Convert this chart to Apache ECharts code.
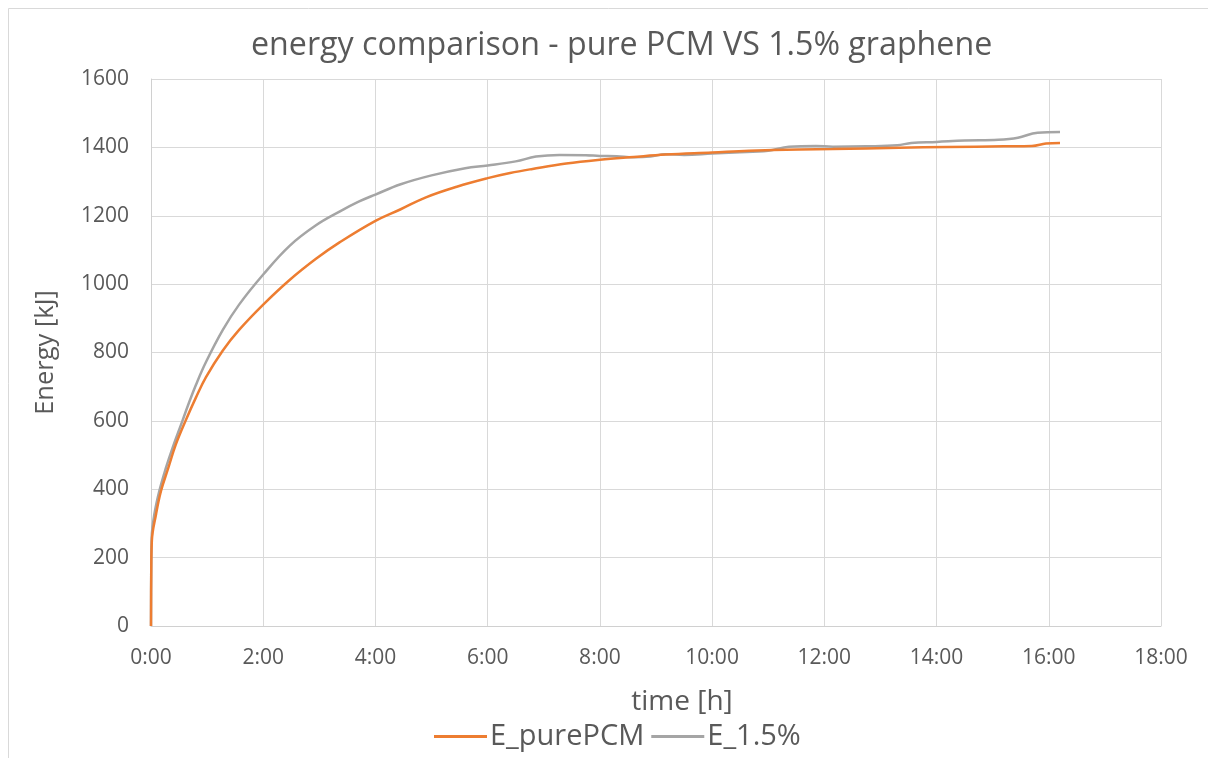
<!DOCTYPE html>
<html>
<head>
<meta charset="utf-8">
<script src="https://cdn.jsdelivr.net/npm/echarts@6/dist/echarts.min.js"></script>
<style>
  html, body { margin: 0; padding: 0; background: #ffffff; }
  #chart { width: 1208px; height: 758px; }
</style>
</head>
<body>
<div id="chart"></div>
<script>
// Stored energy over time, [hours, kJ]
const pureTime = [0, 0.004, 0.015, 0.09, 0.178, 0.31, 0.44, 0.62, 0.8, 0.98, 1.28, 1.57, 2.0, 2.47, 2.94, 3.36, 4.0, 4.45, 4.9, 5.45, 6.0, 6.4, 6.8, 7.4, 8.0, 8.6, 9.17, 10.0, 10.66, 11.55, 12.15, 13.33, 14.2, 15.2, 15.7, 15.95, 16.2];
const pureEnergy = [0, 150, 249, 327, 395, 463, 530, 602, 668, 728, 806, 866, 940, 1012, 1074, 1122, 1185, 1219, 1254, 1285, 1310, 1325, 1337, 1353, 1364, 1372, 1379, 1385, 1390, 1394, 1395, 1399, 1401, 1403, 1404, 1411, 1413];

const grapheneTime = [0, 0.004, 0.012, 0.06, 0.148, 0.267, 0.386, 0.56, 0.67, 0.8, 0.98, 1.28, 1.57, 2.0, 2.47, 2.94, 3.36, 3.7, 4.0, 4.45, 5.0, 5.6, 6.0, 6.5, 6.86, 7.28, 7.75, 8.0, 8.3, 8.6, 8.9, 9.17, 9.5, 10.0, 10.4, 11.0, 11.37, 11.85, 12.15, 12.75, 13.3, 13.55, 14.0, 14.5, 15.1, 15.45, 15.8, 16.2];
const grapheneEnergy = [0, 160, 259, 327, 395, 463, 522, 600, 650, 705, 772, 866, 940, 1028, 1112, 1172, 1212, 1241, 1262, 1292, 1318, 1339, 1347, 1359, 1373, 1378, 1377, 1375, 1374, 1371, 1373, 1380, 1378, 1382, 1385, 1390, 1402, 1404, 1402, 1403, 1406, 1413, 1416, 1420, 1422, 1428, 1443, 1445];

const seriesNames = ['E_purePCM', 'E_1.5%'];
const titleText = 'energy comparison - pure PCM VS 1.5% graphene';
const xAxisTitle = 'time [h]';
const yAxisTitle = 'Energy [kJ]';

const pairs = (xs, ys) => xs.map((x, i) => [x, ys[i]]);
const textColor = '#595959';
const fontFamily = '"Open Sans", "Noto Sans", sans-serif';
const lineIcon = 'path://M0,0 L53,0 L53,3 L0,3 Z';

const chart = echarts.init(document.getElementById('chart'), null, { renderer: 'canvas' });
chart.setOption({
  backgroundColor: '#ffffff',
  animation: false,
  textStyle: { fontFamily: fontFamily, color: textColor },
  graphic: [{
    type: 'rect',
    shape: { x: 8.5, y: 8.5, width: 1210, height: 760 },
    style: { fill: 'none', stroke: '#d9d9d9', lineWidth: 1 },
    silent: true
  }],
  title: {
    text: titleText,
    left: 246,
    top: 25,
    textStyle: { fontFamily: fontFamily, fontSize: 32.2, fontWeight: 'normal', color: textColor }
  },
  legend: {
    bottom: 2,
    left: 429,
    icon: lineIcon,
    itemWidth: 53,
    itemHeight: 3,
    itemGap: 7,
    textStyle: { fontFamily: fontFamily, fontSize: 29, color: textColor, padding: [0, 0, 0, -2] }
  },
  grid: { left: 151, right: 47, top: 79, bottom: 132, containLabel: false },
  xAxis: {
    type: 'value',
    min: 0,
    max: 18,
    interval: 2,
    name: xAxisTitle,
    nameLocation: 'middle',
    nameGap: 62,
    nameTextStyle: { fontFamily: fontFamily, fontSize: 28, color: textColor, padding: [0, 0, 0, 52] },
    axisLine: { show: true, lineStyle: { color: '#d0d0d0', width: 1 } },
    axisTick: { show: false },
    splitLine: { show: true, lineStyle: { color: '#d9d9d9', width: 1 } },
    axisLabel: {
      fontFamily: fontFamily, fontSize: 21, color: textColor, margin: 22,
      formatter: v => Math.round(v) + ':00'
    }
  },
  yAxis: {
    type: 'value',
    min: 0,
    max: 1600,
    interval: 200,
    name: yAxisTitle,
    nameLocation: 'middle',
    nameGap: 92,
    nameTextStyle: { fontFamily: fontFamily, fontSize: 25.5, color: textColor },
    axisLine: { show: true, lineStyle: { color: '#d0d0d0', width: 1 } },
    axisTick: { show: false },
    splitLine: { show: true, lineStyle: { color: '#d9d9d9', width: 1 } },
    axisLabel: {
      fontFamily: fontFamily, fontSize: 21, color: textColor, margin: 22,
      formatter: v => String(v)
    }
  },
  series: [
    {
      name: seriesNames[0],
      type: 'line',
      data: pairs(pureTime, pureEnergy),
      symbol: 'none',
      smooth: 0.4,
      lineStyle: { color: '#ED7D31', width: 2.5 },
      itemStyle: { color: '#ED7D31' },
      z: 3
    },
    {
      name: seriesNames[1],
      type: 'line',
      data: pairs(grapheneTime, grapheneEnergy),
      symbol: 'none',
      smooth: 0.4,
      lineStyle: { color: '#A5A5A5', width: 2.5 },
      itemStyle: { color: '#A5A5A5' },
      z: 2
    }
  ]
});
</script>
</body>
</html>
